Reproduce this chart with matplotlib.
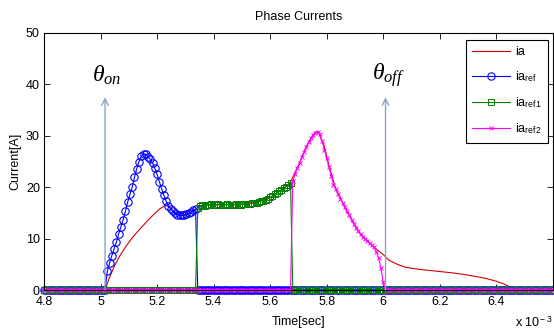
import matplotlib

matplotlib.use("Agg")
import matplotlib.pyplot as plt
import numpy as np

plt.rcParams["font.family"] = ["Liberation Sans", "DejaVu Sans"]
plt.rcParams["mathtext.fontset"] = "custom"
plt.rcParams["mathtext.rm"] = "Liberation Sans"
plt.rcParams["mathtext.it"] = "Liberation Serif:italic"

# sample grid of the reference currents (ms)
dt = 0.008
t = np.round(4.8 + dt * np.arange(226), 3)

# ia_ref (blue circles), starting at 5.024 ms
ref_start = 5.024
ref_vals = [3.7, 5.2, 6.7, 8.0, 9.3, 10.9, 12.3, 13.7, 15.3, 17.1,
            18.6, 20.0, 21.9, 23.6, 25.0, 26.0, 26.4, 26.4, 25.9, 25.4,
            24.7, 23.7, 22.5, 21.1, 19.7, 18.4, 17.3, 16.4, 15.8, 15.3,
            14.9, 14.6, 14.5, 14.5, 14.6, 14.7, 14.9, 15.2, 15.5, 15.8]

# ia_ref1 (green squares), starting at 5.344 ms
ref1_start = 5.344
ref1_vals = [16.0, 16.3, 16.5, 16.4, 16.6, 16.5, 16.7, 16.6, 16.5, 16.7,
             16.6, 16.5, 16.6, 16.7, 16.6, 16.5, 16.6, 16.7, 16.6, 16.6,
             16.7, 16.8, 16.7, 16.8, 16.9, 17.0, 17.0, 17.2, 17.3, 17.4,
             17.6, 17.8, 18.0, 18.3, 18.6, 18.9, 19.2, 19.5, 19.8, 20.1,
             20.4, 20.8]

# ia_ref2 (magenta crosses), starting at 5.680 ms
ref2_start = 5.680
ref2_vals = [21.3, 22.5, 23.7, 24.8, 25.9, 26.9, 27.9, 28.8, 29.6, 30.2,
             30.6, 30.8, 30.3, 28.9, 27.3, 25.6, 23.9, 22.2, 20.5, 19.6,
             18.7, 17.8, 17.0, 16.1, 15.3, 14.5, 13.7, 12.9, 12.1, 11.4,
             10.8, 10.3, 9.9, 9.5, 9.1, 8.7, 8.3, 7.4, 6.2, 4.2, 1.5]

# measured phase current ia (red line)
t_ia = [4.80, 5.016, 5.03, 5.05, 5.07, 5.09, 5.11, 5.13, 5.15, 5.17,
        5.19, 5.21, 5.23, 5.245, 5.26, 5.28, 5.30, 5.32, 5.34, 5.36,
        5.40, 5.45, 5.50, 5.55, 5.60, 5.64, 5.67, 5.70, 5.73, 5.76,
        5.77, 5.79, 5.81, 5.83, 5.86, 5.89, 5.92, 5.95, 5.97, 6.00,
        6.02, 6.05, 6.08, 6.13, 6.20, 6.25, 6.30, 6.36, 6.40, 6.43,
        6.45, 6.47, 6.60]
ia = [0, 0, 2.2, 4.8, 6.8, 8.5, 10.0, 11.3, 12.5, 13.7,
      14.8, 15.8, 16.5, 16.1, 15.1, 14.5, 14.6, 15.1, 15.8, 16.4,
      16.6, 16.6, 16.7, 17.1, 18.0, 19.5, 20.8, 24.2, 28.1, 30.7,
      30.8, 28.2, 23.8, 20.0, 16.5, 13.5, 10.8, 9.2, 8.2, 6.9,
      5.8, 5.0, 4.4, 4.0, 3.6, 3.3, 2.9, 2.3, 1.7, 1.1,
      0.5, 0, 0]

theta_on, theta_off = 5.016, 6.008
arrow_top = 37.5


def on_grid(start, vals):
    y = np.zeros(len(t))
    i = int(np.searchsorted(t, start - 1e-9))
    y[i:i + len(vals)] = vals
    return y


ia_ref = on_grid(ref_start, ref_vals)
ia_ref1 = on_grid(ref1_start, ref1_vals)
ia_ref2 = on_grid(ref2_start, ref2_vals)

fig = plt.figure(figsize=(5.54, 3.35), dpi=100)
ax = fig.add_axes([0.0794, 0.1343, 0.9186, 0.7672])

ax.plot(t_ia, ia, color="#d00000", lw=0.8, label="ia")
ax.plot(t, ia_ref, color="#0000ff", lw=0.8, marker="o", ms=5.3, mfc="none",
        mew=0.8, clip_on=False, label=r"ia$_{\rm ref}$")
ax.plot(t, ia_ref1, color="#008000", lw=0.8, marker="s", ms=5, mfc="none",
        mew=0.7, clip_on=False, label=r"ia$_{\rm ref1}$")
ax.plot(t, ia_ref2, color="#ff00ff", lw=0.8, marker="x", ms=3.5,
        mew=0.7, clip_on=False, label=r"ia$_{\rm ref2}$")

for x0 in (theta_on, theta_off):
    ax.annotate("", xy=(x0, arrow_top), xytext=(x0, 0),
                arrowprops=dict(arrowstyle="->", color="#8aa6c8", lw=1.0,
                                shrinkA=0, shrinkB=0, mutation_scale=12))
ax.text(theta_on + 0.005, 41.8, r"$\mathit{\theta_{on}}$", fontsize=17,
        ha="center", va="center")
ax.text(theta_off + 0.012, 41.8, r"$\mathit{\theta_{off}}$", fontsize=17,
        ha="center", va="center")

ax.set_xlim(4.8, 6.6)
ax.set_ylim(0, 50)
ax.set_xticks([4.8, 5.0, 5.2, 5.4, 5.6, 5.8, 6.0, 6.2, 6.4])
ax.set_xticklabels(["4.8", "5", "5.2", "5.4", "5.6", "5.8", "6", "6.2", "6.4"])
ax.set_yticks([0, 10, 20, 30, 40, 50])
ax.tick_params(direction="in", top=True, right=True, length=4, width=0.6,
               labelsize=9)
ax.tick_params(axis="x", pad=4)
ax.tick_params(axis="y", pad=3)
for s in ax.spines.values():
    s.set_linewidth(0.8)

ax.set_title("Phase Currents", fontsize=9, pad=9)
ax.set_xlabel("Time[sec]", fontsize=9, labelpad=6)
ax.set_ylabel("Current[A]", fontsize=9, labelpad=3)
fig.text(0.997, 0.015, r"x 10$^{\rm -3}$", fontsize=9, ha="right", va="bottom")

leg = ax.legend(loc="upper right", bbox_to_anchor=(0.99, 0.973), fontsize=9,
                fancybox=False, edgecolor="black", framealpha=1,
                handlelength=3.0, handletextpad=0.4, labelspacing=0.9,
                borderpad=0.5, borderaxespad=0)
leg.get_frame().set_linewidth(0.8)

fig.savefig("out.png", dpi=100)
